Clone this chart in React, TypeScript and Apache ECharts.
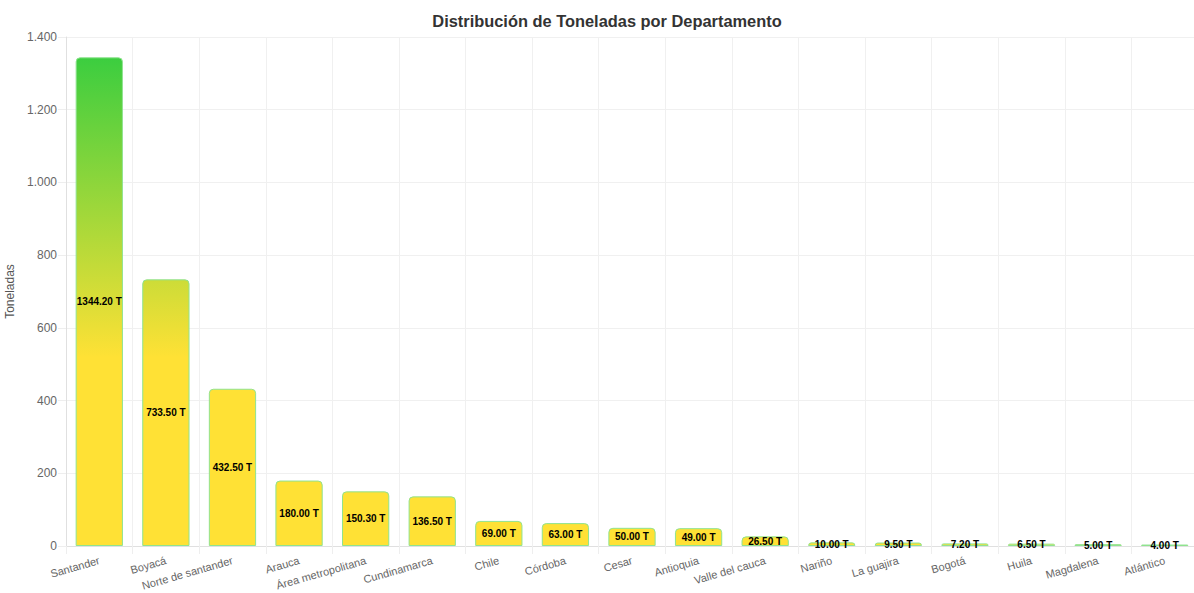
import React, { useEffect, useRef } from "react";
import * as echarts from "echarts";

const titleText = "Distribución de Toneladas por Departamento";
const yAxisName = "Toneladas";
const categories = [
  "Santander",
  "Boyacá",
  "Norte de santander",
  "Arauca",
  "Área metropolitana",
  "Cundinamarca",
  "Chile",
  "Córdoba",
  "Cesar",
  "Antioquia",
  "Valle del cauca",
  "Nariño",
  "La guajira",
  "Bogotá",
  "Huila",
  "Magdalena",
  "Atlántico",
];
const tonnes = [1344.2, 733.5, 432.5, 180, 150.3, 136.5, 69, 63, 50, 49, 26.5, 10, 9.5, 7.2, 6.5, 5, 4];

const fmtThousands = (v: number) => String(v).replace(/\B(?=(\d{3})+(?!\d))/g, ".");

export default function App() {
  const ref = useRef<HTMLDivElement>(null);
  useEffect(() => {
    document.body.style.margin = "0";
    if (!ref.current) return;
    const chart = echarts.init(ref.current, undefined, { renderer: "svg" });
    const gridTop = 37;
    const gridBottom = 47;
    const H = 593;
    const fill = new echarts.graphic.LinearGradient(
      0,
      gridTop,
      0,
      H - gridBottom,
      [
        { offset: 0, color: "#2ecc40" },
        { offset: 0.63, color: "#ffe135" },
        { offset: 1, color: "#ffe135" },
      ],
      true
    );
    chart.setOption({
      animation: false,
      textStyle: { fontFamily: "Arial, 'Liberation Sans', Helvetica, sans-serif" },
      title: {
        text: titleText,
        left: 602,
        textAlign: "center",
        top: 8,
        textStyle: { fontSize: 16.4, fontWeight: "bold", color: "#333" },
      },
      grid: {
        left: 66,
        right: -4,
        top: gridTop,
        bottom: gridBottom,
        containLabel: false,
        outerBoundsMode: "none",
      },
      xAxis: {
        type: "category",
        data: categories,
        axisLine: { lineStyle: { color: "#e0e0e0" } },
        axisTick: { show: true, length: 8, lineStyle: { color: "#eeeeee" } },
        splitLine: { show: true, lineStyle: { color: "#f0f0f0" } },
        axisLabel: { rotate: 16, color: "#666", fontSize: 11, margin: 14, interval: 0, hideOverlap: false },
      },
      yAxis: {
        type: "value",
        min: 0,
        max: 1400,
        interval: 200,
        name: yAxisName,
        nameLocation: "middle",
        nameGap: 49,
        nameTextStyle: { color: "#555", fontSize: 12 },
        axisLine: { show: true, lineStyle: { color: "#e0e0e0" } },
        axisTick: { show: true, length: 8, lineStyle: { color: "#eeeeee" } },
        splitLine: { show: true, lineStyle: { color: "#f0f0f0" } },
        axisLabel: { color: "#666", fontSize: 12, margin: 9, formatter: (v: number) => fmtThousands(v) },
      },
      series: [
        {
          type: "bar",
          data: tonnes,
          barCategoryGap: "29%",
          itemStyle: {
            color: fill,
            borderColor: "#8fe38f",
            borderWidth: 1,
            borderRadius: [4, 4, 0, 0],
          },
          label: {
            show: true,
            position: "inside",
            color: "#000",
            fontWeight: "bold",
            fontSize: 10,
            formatter: (p: any) => `${Number(p.value).toFixed(2)} T`,
          },
        },
      ],
    });
    return () => chart.dispose();
  }, []);
  return <div ref={ref} style={{ width: 1194, height: 593 }} />;
}
